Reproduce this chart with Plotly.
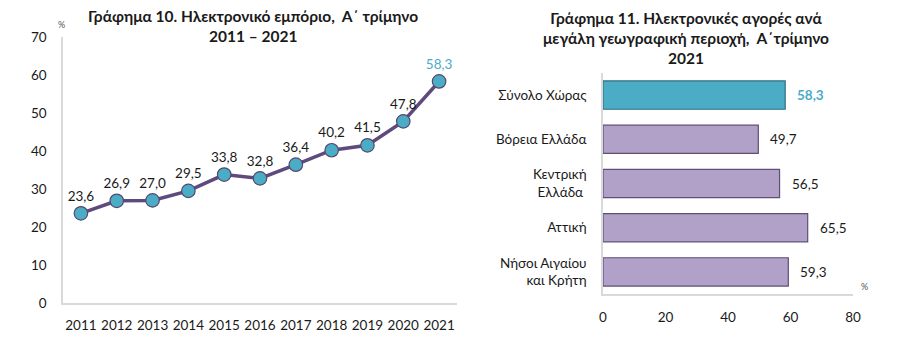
import plotly.graph_objects as go

years = ["2011", "2012", "2013", "2014", "2015", "2016", "2017", "2018", "2019", "2020", "2021"]
ecommerce = [23.6, 26.9, 27.0, 29.5, 33.8, 32.8, 36.4, 40.2, 41.5, 47.8, 58.3]

regions = ["Σύνολο Χώρας", "Βόρεια Ελλάδα", "Κεντρική<br>Ελλάδα ", "Αττική", "Νήσοι Αιγαίου<br>και Κρήτη"]
region_vals = [58.3, 49.7, 56.5, 65.5, 59.3]

FONT = "Lato"
TXT = "#1a1a1a"
TEAL = "#4bacc6"
PURPLE_LINE = "#5f4a7d"
LAVENDER = "#b1a0c7"
AXIS = "#d9d9d9"

def fmt(v):
    return f"{v:.1f}".replace(".", ",")

fig = go.Figure()

label_colors = [TXT] * (len(ecommerce) - 1) + [TEAL]
fig.add_trace(go.Scatter(
    x=years, y=ecommerce, mode="lines+markers+text",
    line=dict(color=PURPLE_LINE, width=3.5),
    marker=dict(size=13.5, color=TEAL, line=dict(color="#54486e", width=1.2)),
    text=[fmt(v) for v in ecommerce], textposition="top center",
    textfont=dict(family=FONT, size=13.5, color=label_colors),
    xaxis="x", yaxis="y", showlegend=False, cliponaxis=False,
))

bar_colors = [TEAL] + [LAVENDER] * (len(region_vals) - 1)
bar_edges = ["#2f6f80"] + ["#5e4f75"] * (len(region_vals) - 1)
fig.add_trace(go.Bar(
    x=region_vals, y=regions, orientation="h",
    marker=dict(color=bar_colors, line=dict(color=bar_edges, width=1.2)),
    width=0.64, xaxis="x2", yaxis="y2", showlegend=False,
))

for i, (r, v) in enumerate(zip(regions, region_vals)):
    fig.add_annotation(
        x=v, y=r, xref="x2", yref="y2", text=(f"<b>{fmt(v)}</b>" if i == 0 else fmt(v)),
        showarrow=False, xanchor="left", xshift=10,
        font=dict(family=FONT, size=13.5, color=(TEAL if i == 0 else TXT)),
    )

def paper_note(x, y, text, size, color=TXT):
    fig.add_annotation(x=x / 905, y=1 - y / 341, xref="paper", yref="paper",
                       xanchor="center", yanchor="middle", text=text, showarrow=False,
                       font=dict(family=FONT, size=size, color=color))

paper_note(253, 16, "<b>Γράφημα 10. Ηλεκτρονικό εμπόριο,  Α΄ τρίμηνο</b>", 15.5)
paper_note(253, 36, "<b>2011 – 2021</b>", 15.5)
paper_note(686, 37.5, "<b>Γράφημα 11. Ηλεκτρονικές αγορές ανά<br>μεγάλη γεωγραφική περιοχή,  Α΄τρίμηνο<br>2021</b>", 15.5)
paper_note(61, 24, "%", 9, "#555")
paper_note(864, 286, "%", 9, "#555")

common = dict(showline=True, linecolor=AXIS, linewidth=1.5, showgrid=False,
              zeroline=False, ticks="", automargin=False,
              tickfont=dict(family=FONT, size=13.5, color=TXT))

fig.update_layout(
    width=905, height=341, margin=dict(l=0, r=0, t=0, b=0),
    paper_bgcolor="white", plot_bgcolor="white",
    font=dict(family=FONT, size=13, color=TXT),
    xaxis=dict(domain=[63 / 905, 457 / 905], anchor="y", type="category",
               range=[-0.5, 10.5], ticklabelstandoff=9, **common),
    yaxis=dict(domain=[1 - 303 / 341, 1 - 37 / 341], anchor="x",
               range=[0, 70], dtick=10, ticklabelstandoff=12, **common),
    xaxis2=dict(domain=[603 / 905, 853 / 905], anchor="y2",
                range=[0, 80], dtick=20, ticklabelstandoff=10, **common),
    yaxis2=dict(domain=[1 - 294 / 341, 1 - 73 / 341], anchor="x2", type="category",
                autorange="reversed", ticklabelstandoff=12, **common),
)

fig.write_html("out.html")
